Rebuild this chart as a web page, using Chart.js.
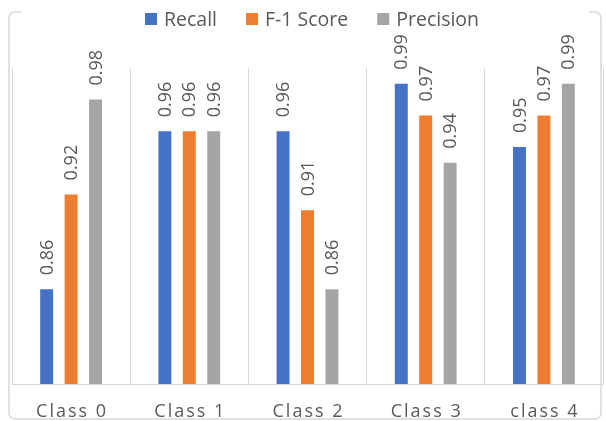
<!DOCTYPE html>
<html>
<head>
<meta charset="utf-8">
<script src="https://cdn.jsdelivr.net/npm/chart.js@4/dist/chart.umd.min.js"></script>
<style>
    html, body { margin: 0; padding: 0; background: #fff; }
    #wrap { width: 606px; height: 421px; }
</style>
</head>
<body>
<div id="wrap"><canvas id="scoreChart" width="606" height="421"></canvas></div>
<script>
// Per-class metrics
const categories = ['Class 0', 'Class 1', 'Class 2', 'Class 3', 'class 4'];
const recall = [0.86, 0.96, 0.96, 0.99, 0.95];
const f1Score = [0.92, 0.96, 0.91, 0.97, 0.97];
const precision = [0.98, 0.96, 0.86, 0.94, 0.99];
const seriesNames = ['Recall', 'F-1 Score', 'Precision'];
const seriesColors = ['#4472C4', '#ED7D31', '#A5A5A5'];

const TEXT_COLOR = '#595959';
const LINE_COLOR = '#D9D9D9';
const FONT = '"Open Sans", "Noto Sans", sans-serif';

/**
 * Draws value labels, category names, legend and the outer frame
 */
const decorations = {
    id: 'decorations',
    afterDraw(chart) {
        const ctx = chart.ctx;
        const xScale = chart.scales.x;

        // Rotated value labels above each bar
        ctx.save();
        ctx.fillStyle = TEXT_COLOR;
        ctx.font = '18px ' + FONT;
        ctx.textAlign = 'left';
        ctx.textBaseline = 'middle';
        chart.data.datasets.forEach((ds, i) => {
            chart.getDatasetMeta(i).data.forEach((bar, j) => {
                ctx.save();
                ctx.translate(bar.x + 1, bar.y - 14);
                ctx.rotate(-Math.PI / 2);
                ctx.fillText(ds.data[j].toFixed(2), 0, 0);
                ctx.restore();
            });
        });
        ctx.restore();

        // Category names, letter-spaced
        ctx.save();
        ctx.fillStyle = TEXT_COLOR;
        ctx.font = '18px ' + FONT;
        ctx.letterSpacing = '2px';
        ctx.textAlign = 'center';
        ctx.textBaseline = 'alphabetic';
        categories.forEach((name, i) => {
            ctx.fillText(name, xScale.getPixelForValue(i) + 1, 417);
        });
        ctx.restore();

        // Legend row
        ctx.save();
        ctx.font = '19.5px ' + FONT;
        ctx.textBaseline = 'alphabetic';
        let x = 145;
        seriesNames.forEach((name, i) => {
            ctx.fillStyle = seriesColors[i];
            ctx.fillRect(x, 13, 12, 12);
            x += 12 + 7;
            ctx.fillStyle = TEXT_COLOR;
            ctx.fillText(name, x, 26);
            x += ctx.measureText(name).width + 29;
        });
        ctx.restore();

        // Outer frame (top edge only shows at the corners)
        ctx.save();
        ctx.strokeStyle = LINE_COLOR;
        ctx.lineWidth = 1.5;
        const l = 9, r = 601, t = 12, b = 419, rad = 6;
        ctx.beginPath();
        ctx.moveTo(l + 12, t);
        ctx.lineTo(l + rad, t);
        ctx.arcTo(l, t, l, t + rad, rad);
        ctx.lineTo(l, b - rad);
        ctx.arcTo(l, b, l + rad, b, rad);
        ctx.lineTo(r - rad, b);
        ctx.arcTo(r, b, r, b - rad, rad);
        ctx.lineTo(r, t + rad);
        ctx.arcTo(r, t, r - rad, t, rad);
        ctx.lineTo(r - 12, t);
        ctx.stroke();
        ctx.restore();
    }
};

const datasets = [recall, f1Score, precision].map((values, i) => ({
    label: seriesNames[i],
    data: values,
    backgroundColor: seriesColors[i],
    categoryPercentage: 0.62,
    barPercentage: 0.53
}));

new Chart(document.getElementById('scoreChart'), {
    type: 'bar',
    data: { labels: categories, datasets: datasets },
    options: {
        responsive: false,
        animation: false,
        layout: { padding: { top: 68, left: 12, right: 3, bottom: 37 } },
        plugins: {
            legend: { display: false },
            tooltip: { enabled: false }
        },
        scales: {
            x: {
                grid: { display: true, offset: true, color: LINE_COLOR, drawTicks: false },
                border: { display: true, color: LINE_COLOR },
                ticks: { display: false }
            },
            y: {
                display: false,
                min: 0.8,
                max: 1.0
            }
        }
    },
    plugins: [decorations]
});
</script>
</body>
</html>
